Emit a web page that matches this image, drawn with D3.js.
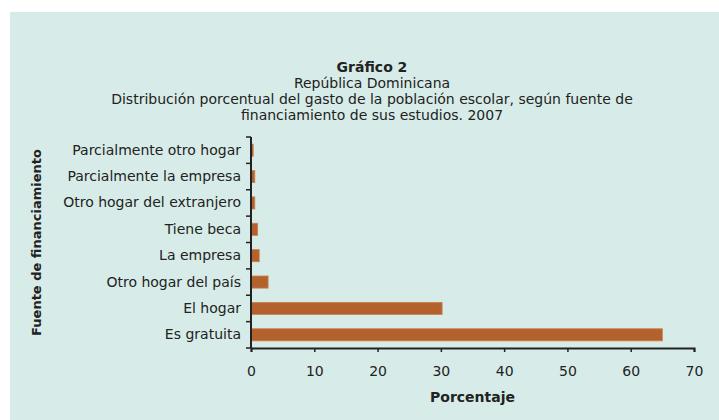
<!DOCTYPE html>
<html>
<head>
<meta charset="utf-8">
<script src="https://cdn.jsdelivr.net/npm/d3@7"></script>
<style>
  body { margin: 0; background: #fff; }
  text { font-family: "DejaVu Sans", sans-serif; fill: #222; }
</style>
</head>
<body>
<div id="chart"></div>
<script>
var svgWidth = 719;
var svgHeight = 420;

// data (top to bottom as drawn)
var categories = ["Parcialmente otro hogar", "Parcialmente la empresa", "Otro hogar del extranjero",
    "Tiene beca", "La empresa", "Otro hogar del país", "El hogar", "Es gratuita"];
var values = [0.35, 0.6, 0.6, 1.05, 1.3, 2.7, 30.2, 65.0];
var xTicks = [0, 10, 20, 30, 40, 50, 60, 70];
var titleLines = ["República Dominicana",
    "Distribución porcentual del gasto de la población escolar, según fuente de",
    "financiamiento de sus estudios. 2007"];

var margin = { top: 137, right: 25, bottom: 72, left: 251 };
var width = svgWidth - margin.left - margin.right;
var height = svgHeight - margin.top - margin.bottom;

var svg = d3.select("#chart")
    .append("svg")
    .attr("width", svgWidth)
    .attr("height", svgHeight);

svg.append("rect")
    .attr("x", 10)
    .attr("y", 12)
    .attr("width", svgWidth - 10)
    .attr("height", svgHeight - 12)
    .attr("fill", "#d7ece8");

var title = svg.append("text")
    .attr("text-anchor", "middle")
    .attr("font-size", "14px");
title.append("tspan")
    .attr("x", 372).attr("y", 72)
    .attr("font-weight", "bold")
    .text("Gráfico 2");
titleLines.forEach(function(t, i) {
    title.append("tspan")
        .attr("x", 372).attr("y", 88 + i * 16)
        .text(t);
});

var chartGroup = svg.append("g")
    .attr("transform", `translate(${margin.left},${margin.top})`);

var xLinearScale = d3.scaleLinear()
    .domain([0, 70])
    .range([0, width]);

var yBand = d3.scaleBand()
    .domain(categories)
    .range([0, height])
    .paddingInner(0.54)
    .paddingOuter(0.27);

chartGroup.append("g")
    .selectAll("rect")
    .data(values)
    .enter()
    .append("rect")
    .attr("x", 0)
    .attr("y", (d, i) => yBand(categories[i]))
    .attr("width", d => xLinearScale(d))
    .attr("height", yBand.bandwidth())
    .attr("fill", "#b3622d")
    .attr("stroke", "#c98252")
    .attr("stroke-width", 0.8);

// x axis
var bottomAxis = d3.axisBottom(xLinearScale)
    .tickValues(xTicks)
    .tickSize(4)
    .tickPadding(14)
    .tickSizeOuter(4);

var xAxis = chartGroup.append("g")
    .attr("transform", `translate(0, ${height})`)
    .call(bottomAxis);
xAxis.selectAll("text").attr("font-size", "14px").attr("fill", "#333");

// y axis labels
var leftAxis = d3.axisLeft(yBand).tickSize(0).tickPadding(10);
var yAxis = chartGroup.append("g").call(leftAxis);
yAxis.selectAll("text").attr("font-size", "14px").attr("fill", "#1a1a1a");
yAxis.select(".domain").remove();

// boundary ticks between categories
var yBoundary = d3.scaleLinear().domain([0, categories.length]).range([0, height]);
chartGroup.append("g")
    .selectAll("line")
    .data(d3.range(categories.length + 1))
    .enter()
    .append("line")
    .attr("x1", -5).attr("x2", 0)
    .attr("y1", d => yBoundary(d))
    .attr("y2", d => yBoundary(d))
    .attr("stroke", "#222")
    .attr("stroke-width", 1.5);

chartGroup.append("line")
    .attr("x1", 0).attr("x2", 0)
    .attr("y1", 0).attr("y2", height)
    .attr("stroke", "#222")
    .attr("stroke-width", 2);

xAxis.select(".domain").attr("stroke", "#222").attr("stroke-width", 2);
xAxis.selectAll(".tick line").attr("stroke", "#222").attr("stroke-width", 1.5);

chartGroup.append("text")
    .attr("x", width / 2)
    .attr("y", height + 54)
    .attr("text-anchor", "middle")
    .attr("font-size", "14px")
    .attr("font-weight", "bold")
    .text("Porcentaje");

chartGroup.append("text")
    .attr("transform", "rotate(-90)")
    .attr("x", -height / 2)
    .attr("y", -margin.left + 41)
    .attr("text-anchor", "middle")
    .attr("font-size", "13px")
    .attr("font-weight", "bold")
    .text("Fuente de financiamiento");
</script>
</body>
</html>
